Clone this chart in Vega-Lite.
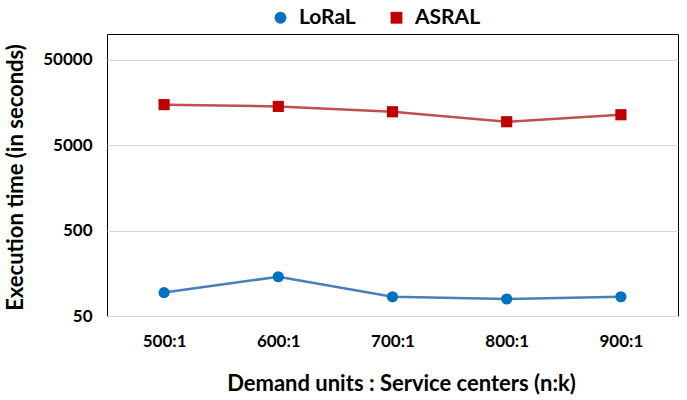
{
  "$schema": "https://vega.github.io/schema/vega-lite/v6.json",
  "width": 571,
  "height": 282,
  "autosize": "none",
  "padding": {"left": 107, "top": 34, "right": 9, "bottom": 84},
  "background": "white",
  "config": {
    "font": "Lato",
    "view": {"stroke": "black", "strokeWidth": 1},
    "legend": {
      "title": null,
      "orient": "none",
      "direction": "horizontal",
      "legendX": 163,
      "legendY": -27,
      "padding": 0,
      "symbolSize": 140,
      "symbolStrokeWidth": 0,
      "labelFont": "Lato",
      "labelFontSize": 21,
      "labelFontWeight": "bold",
      "labelColor": "black",
      "labelOffset": 8,
      "columnPadding": 30
    }
  },
  "data": {
    "values": [
      {"ratio": "500:1", "method": "LoRaL", "time": 94},
      {"ratio": "600:1", "method": "LoRaL", "time": 144},
      {"ratio": "700:1", "method": "LoRaL", "time": 84},
      {"ratio": "800:1", "method": "LoRaL", "time": 79},
      {"ratio": "900:1", "method": "LoRaL", "time": 84},
      {"ratio": "500:1", "method": "ASRAL", "time": 14900},
      {"ratio": "600:1", "method": "ASRAL", "time": 14200},
      {"ratio": "700:1", "method": "ASRAL", "time": 12300},
      {"ratio": "800:1", "method": "ASRAL", "time": 9400},
      {"ratio": "900:1", "method": "ASRAL", "time": 11350}
    ]
  },
  "resolve": {"legend": {"stroke": "independent"}},
  "encoding": {
    "x": {
      "field": "ratio",
      "type": "ordinal",
      "scale": {"type": "point", "padding": 0.5},
      "axis": {
        "title": "Demand units : Service centers (n:k)",
        "labelAngle": 0,
        "labelFont": "Lato",
        "labelFontSize": 17,
        "labelFontWeight": "bold",
        "labelColor": "black",
        "labelPadding": 17,
        "ticks": false,
        "domainColor": "#d9d9d9",
        "domainWidth": 1,
        "titleFont": "Lato",
        "titleFontSize": 22,
        "titleFontWeight": "bold",
        "titleColor": "black",
        "titleY": 67,
        "titleX": 294,
        "titleBaseline": "middle"
      }
    },
    "y": {
      "field": "time",
      "type": "quantitative",
      "scale": {"type": "log", "domain": [50, 100000], "nice": false},
      "axis": {
        "title": "Execution time (in seconds)",
        "values": [50, 500, 5000, 50000],
        "format": "d",
        "labelFont": "Lato",
        "labelFontSize": 17,
        "labelFontWeight": "bold",
        "labelColor": "black",
        "labelPadding": 15,
        "ticks": false,
        "domain": false,
        "grid": true,
        "gridColor": "#d9d9d9",
        "gridWidth": 1,
        "titleFont": "Lato",
        "titleFontSize": 22,
        "titleFontWeight": "bold",
        "titleColor": "black",
        "titleAngle": -90,
        "titleX": -92,
        "titleY": 143,
        "titleAlign": "center",
        "titleBaseline": "middle"
      }
    }
  },
  "layer": [
    {
      "mark": {"type": "line", "strokeWidth": 2.5},
      "encoding": {
        "stroke": {
          "field": "method",
          "type": "nominal",
          "scale": {"domain": ["LoRaL", "ASRAL"], "range": ["#4a7ebb", "#c0504d"]},
          "legend": null
        }
      }
    },
    {
      "mark": {"type": "point", "filled": true, "opacity": 1, "strokeWidth": 0, "size": 125},
      "encoding": {
        "fill": {
          "field": "method",
          "type": "nominal",
          "scale": {"domain": ["LoRaL", "ASRAL"], "range": ["#0070c0", "#c00000"]}
        },
        "shape": {
          "field": "method",
          "type": "nominal",
          "scale": {"domain": ["LoRaL", "ASRAL"], "range": ["circle", "square"]}
        }
      }
    }
  ]
}
